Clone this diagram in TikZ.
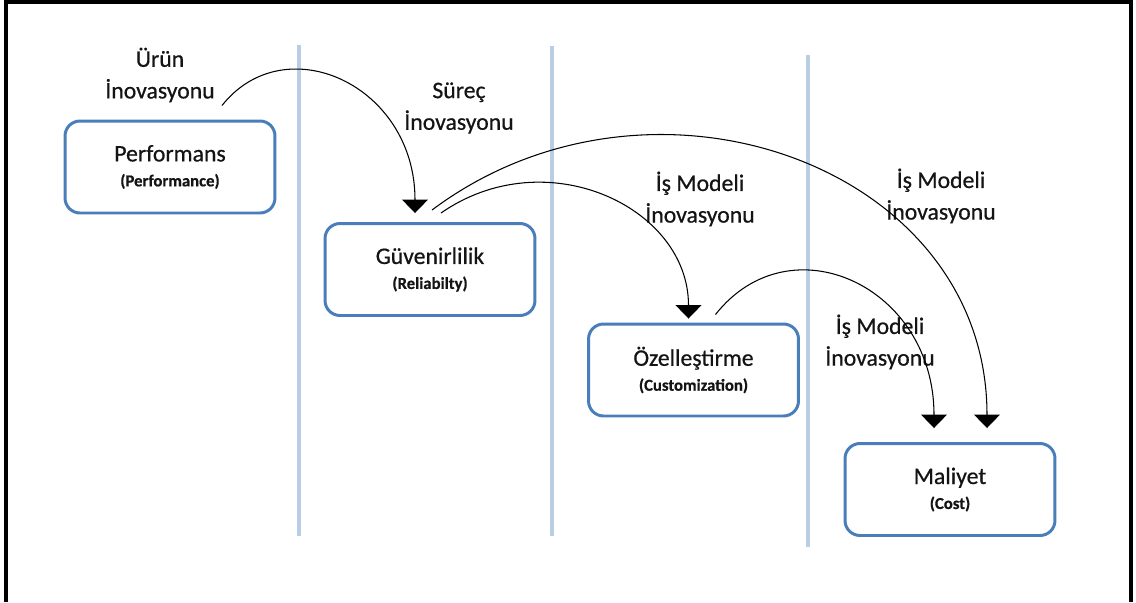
\documentclass[tikz,border=0pt]{standalone}
\usepackage{fontspec}
\setmainfont{Carlito}
\newfontfamily\heavy{Carlito}[FakeBold=0.6]
\usetikzlibrary{arrows.meta,calc}
\newcommand{\boxsub}[1]{{\fontsize{9.5}{11}\selectfont\bfseries #1}}

\begin{document}
\begin{tikzpicture}[x=0.02cm, y=-0.02cm, frame/.style={line width=2.2pt, black}, lane/.style={line width=2.3pt, laneBlue}, box/.style={draw=boxBlue, line width=1.7pt, rounded corners=0.3cm, minimum width=4.2cm, minimum height=1.84cm, align=center, text=txtInk, font=\heavy\fontsize{13.5}{14.2}\selectfont}, note/.style={align=center, text=txtInk, font=\heavy\fontsize{13.5}{18}\selectfont}, flow/.style={-{Triangle[width=0.52cm, length=0.27cm]}, line width=0.6pt, black}]
\definecolor{boxBlue}{RGB}{74,126,187}
\definecolor{laneBlue}{RGB}{185,205,229}
\definecolor{txtInk}{RGB}{20,20,20}
\useasboundingbox (0,0) rectangle (1136,602);
% outer frame, open at the bottom
\draw[frame] (6,602) -- (6,2) -- (1131,2) -- (1131,602);
% lanes
\draw[lane] (299,45) -- (299,536);
\draw[lane] (552,46) -- (552,536);
\draw[lane] (808,55) -- (808,547);
% stages
\node[box] (perf) at (170,167) {Performans\\\boxsub{(Performance)}};
\node[box] (guv) at (430,269.5) {Güvenirlilik\\\boxsub{(Reliabilty)}};
\node[box] (ozel) at (693.5,370) {Özelleştirme\\\boxsub{(Customization)}};
\node[box] (mal) at (950,489.5) {Maliyet\\\boxsub{(Cost)}};
% innovation labels
\node[note] (lurun) at (160,75) {Ürün\\İnovasyonu};
\node[note] (lsurec) at (459,108) {Süreç\\İnovasyonu};
\node[note] (lmodA) at (700,199) {İş Modeli\\İnovasyonu};
\node[note] (lmodB) at (941,196) {İş Modeli\\İnovasyonu};
\node[note] (lmodC) at (880,342) {İş Modeli\\İnovasyonu};
% arrow ends
\coordinate (a1s) at ($(perf.north)+(52,-14)$);
\coordinate (a1e) at ($(guv.north)+(-15,-9)$);
\coordinate (a2s) at ($(guv.north)+(2,-12)$);
\coordinate (a2e) at ($(mal.north)+(37,-14)$);
\coordinate (a3s) at ($(guv.north)+(11,-9)$);
\coordinate (a3e) at ($(ozel.north)+(-5,-4)$);
\coordinate (a4s) at ($(ozel.north)+(22,-8)$);
\coordinate (a4e) at ($(mal.north)+(-16,-14)$);
\draw[flow] (a1s) .. controls (285,26) and (415,85) .. (a1e);
\draw[flow] (a2s) .. controls (651,46) and (987,165) .. (a2e);
\draw[flow] (a3s) .. controls (546,140) and (688.5,207) .. (a3e);
\draw[flow] (a4s) .. controls (790,220) and (934,286) .. (a4e);
\end{tikzpicture}
\end{document}
